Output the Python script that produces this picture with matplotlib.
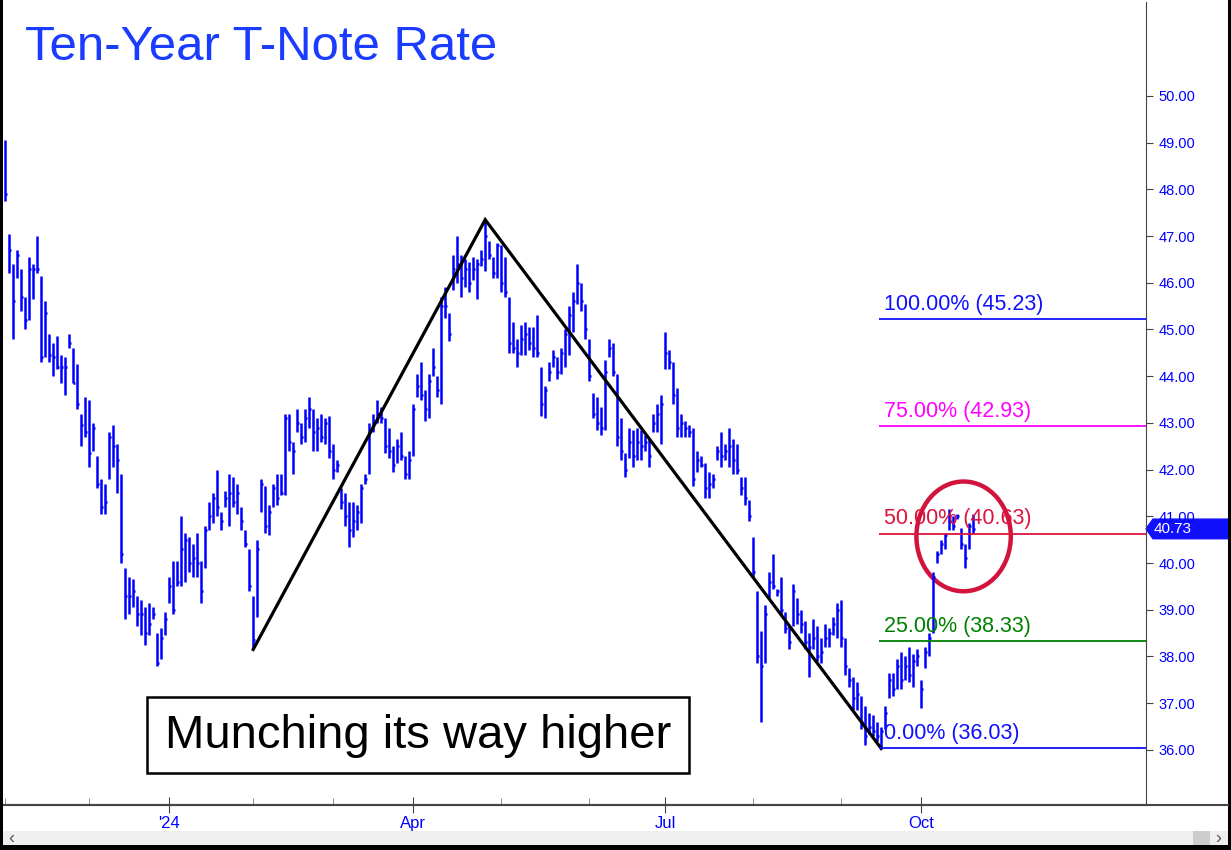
# Ten-Year T-Note Rate - daily HLC bars with pivot levels
import numpy as np
import pandas as pd
import matplotlib
matplotlib.use('Agg')
import matplotlib.pyplot as plt
from matplotlib.patches import Ellipse, Rectangle, Polygon
from matplotlib.transforms import blended_transform_factory

plt.rcParams['font.family'] = ['Liberation Sans', 'DejaVu Sans']

# Daily bars (rate x 10), starting 1 Nov 2023
highs = [
    49.06, 47.05, 46.4, 46.7, 46.3, 45.7, 46.55, 46.4, 47.0, 46.15,
    45.6, 44.9, 44.7, 44.85, 44.45, 44.4, 44.9, 44.6, 44.25, 43.2,
    43.55, 43.5, 43.0, 42.3, 41.8, 41.7, 42.8, 42.95, 42.55, 41.9,
    39.9, 39.7, 39.65, 39.3, 39.2, 39.05, 39.15, 39.05, 38.5, 38.6,
    38.95, 39.7, 40.05, 40.05, 41.0, 40.65, 40.55, 40.4, 40.65, 40.05,
    40.8, 41.3, 41.5, 42.0, 41.1, 41.55, 41.9, 41.85, 41.7, 41.2,
    40.7, 40.3, 39.3, 40.5, 41.8, 41.65, 41.25, 41.7, 41.9, 41.9,
    43.2, 43.2, 42.6, 43.3, 43.0, 43.3, 43.55, 43.3, 43.1, 43.2,
    43.1, 43.15, 42.55, 42.2, 41.6, 41.5, 41.3, 41.3, 41.25, 41.7,
    41.9, 43.0, 43.2, 43.5, 43.35, 43.1, 42.9, 42.5, 42.65, 42.8,
    42.3, 42.4, 43.4, 44.05, 44.3, 43.7, 44.05, 44.6, 44.0, 45.7,
    45.9, 45.35, 46.6, 47.0, 46.6, 46.5, 46.45, 46.55, 46.5, 46.7,
    47.35, 46.9, 46.55, 46.85, 46.8, 46.55, 45.7, 45.15, 44.8, 45.1,
    45.15, 45.05, 45.05, 45.3, 44.2, 43.8, 44.3, 44.55, 44.4, 44.6,
    45.0, 45.5, 45.8, 46.4, 46.0, 45.55, 44.8, 43.65, 43.55, 43.35,
    44.35, 44.8, 44.7, 44.05, 43.1, 42.35, 42.9, 42.85, 42.9, 42.85,
    42.75, 42.65, 43.2, 43.4, 43.6, 44.95, 44.55, 44.3, 43.75, 43.2,
    43.05, 42.95, 42.9, 42.4, 42.3, 42.15, 41.95, 41.9, 42.5, 42.8,
    42.55, 42.9, 42.65, 42.55, 41.85, 41.85, 41.35, 40.55, 39.4, 38.55,
    39.1, 39.8, 40.2, 39.45, 39.7, 38.95, 38.65, 39.55, 39.25, 39.0,
    38.75, 38.5, 38.8, 38.65, 38.4, 38.7, 38.6, 38.85, 39.15, 39.2,
    38.4, 37.75, 37.55, 37.45, 37.15, 36.95, 36.8, 36.75, 36.6, 36.5,
    36.95, 37.65, 37.65, 37.95, 38.1, 38.0, 38.2, 38.05, 38.15, 37.5,
    38.2, 38.5, 39.8, 40.25, 40.5, 40.65, 41.15, 41.0, 41.05, 40.75,
    40.4, 40.85, 41.05]

lows = [
    47.75, 46.2, 44.8, 46.1, 45.4, 45.0, 45.2, 45.65, 46.2, 44.3,
    44.4, 44.3, 44.0, 44.15, 43.85, 43.6, 44.6, 43.85, 43.3, 42.5,
    42.7, 42.05, 42.4, 41.6, 41.05, 41.05, 41.8, 42.05, 41.5, 40.0,
    38.8, 38.9, 39.05, 38.65, 38.45, 38.25, 38.45, 38.8, 37.8, 37.95,
    38.45, 39.15, 38.9, 39.5, 39.5, 39.6, 39.8, 39.7, 39.7, 39.15,
    39.9, 40.7, 40.85, 41.0, 40.7, 41.2, 40.8, 41.2, 41.05, 40.7,
    40.35, 39.4, 38.15, 38.85, 41.1, 40.65, 40.6, 41.2, 41.25, 41.45,
    41.45, 42.4, 41.9, 42.8, 42.55, 42.6, 42.9, 42.4, 42.4, 42.6,
    42.55, 42.25, 41.8, 41.95, 41.15, 40.8, 40.35, 40.55, 40.7, 40.85,
    41.7, 41.9, 42.8, 43.0, 43.0, 42.35, 42.25, 41.95, 42.15, 42.2,
    41.8, 41.8, 42.3, 43.55, 43.5, 43.05, 43.1, 44.0, 43.55, 43.4,
    45.25, 44.75, 45.85, 46.0, 45.7, 45.9, 45.8, 46.05, 45.65, 46.35,
    46.25, 46.5, 46.1, 46.1, 45.8, 45.7, 44.5, 44.5, 44.2, 44.45,
    44.45, 44.55, 44.4, 44.4, 43.15, 43.1, 43.9, 44.2, 43.95, 44.05,
    44.2, 44.45, 44.95, 45.55, 45.4, 44.8, 43.9, 43.1, 42.85, 42.75,
    42.85, 44.4, 44.0, 42.5, 42.2, 41.85, 42.25, 42.05, 42.2, 42.2,
    42.4, 42.05, 42.8, 42.8, 42.55, 44.15, 44.15, 43.4, 42.7, 42.7,
    42.7, 42.7, 41.65, 41.95, 42.05, 41.4, 41.4, 41.6, 42.2, 42.05,
    42.2, 42.05, 41.9, 41.9, 41.45, 41.25, 40.9, 39.7, 37.85, 36.6,
    37.85, 39.25, 39.45, 39.3, 38.9, 38.5, 38.15, 38.65, 38.7, 38.5,
    38.15, 37.55, 38.15, 37.9, 37.85, 38.2, 38.2, 38.45, 38.4, 38.2,
    37.6, 37.35, 36.85, 36.85, 36.45, 36.1, 36.35, 36.3, 36.2, 36.03,
    36.45, 37.1, 37.15, 37.3, 37.3, 37.5, 37.45, 37.35, 37.8, 36.9,
    37.75, 38.0, 38.5, 40.0, 40.2, 40.3, 40.7, 40.7, 40.95, 40.3,
    39.9, 40.3, 40.65]

closes = [
    47.9, 46.7, 45.6, 46.6, 45.7, 45.2, 46.3, 46.3, 46.3, 44.4,
    45.35, 44.45, 44.4, 44.2, 44.2, 44.2, 44.7, 43.85, 43.4, 42.95,
    42.8, 42.35, 42.9, 41.7, 41.2, 41.3, 42.7, 42.5, 42.2, 40.2,
    39.3, 39.3, 39.4, 38.9, 38.9, 38.5, 38.7, 38.9, 37.85, 38.4,
    38.8, 39.5, 39.0, 39.6, 40.3, 40.5, 40.0, 40.1, 40.0, 39.4,
    40.7, 41.0, 41.4, 41.2, 40.9, 41.4, 41.5, 41.3, 41.5, 40.9,
    40.4, 39.5, 38.35, 40.3, 41.7, 40.8, 41.1, 41.6, 41.4, 41.5,
    43.1, 42.6, 42.4, 43.0, 42.7, 43.1, 43.3, 42.8, 42.9, 42.7,
    43.0, 42.4, 42.0, 42.1, 41.3, 41.0, 40.7, 40.9, 41.1, 41.6,
    41.8, 42.8, 43.0, 43.2, 43.1, 42.5, 42.4, 42.1, 42.5, 42.3,
    41.9, 42.2, 43.3, 43.8, 43.6, 43.3, 43.9, 44.2, 43.7, 45.5,
    45.5, 44.9, 46.3, 46.4, 46.1, 46.3, 46.0, 46.3, 46.4, 46.5,
    47.0, 46.6, 46.2, 46.8, 46.0, 45.8, 44.7, 44.6, 44.5, 44.8,
    44.9, 44.7, 44.6, 44.5, 43.4, 43.7, 44.1, 44.4, 44.1, 44.5,
    44.9, 45.3, 45.6, 46.0, 45.6, 45.0, 44.0, 43.2, 43.0, 42.9,
    44.1, 44.6, 44.1, 42.7, 42.4, 42.0, 42.6, 42.3, 42.6, 42.5,
    42.6, 42.3, 43.0, 43.2, 43.4, 44.5, 44.3, 43.6, 42.9, 43.0,
    42.9, 42.8, 41.8, 42.2, 42.1, 41.6, 41.7, 41.8, 42.4, 42.3,
    42.4, 42.5, 42.2, 42.0, 41.6, 41.4, 41.0, 39.8, 38.0, 37.8,
    38.9, 39.6, 39.5, 39.4, 39.0, 38.6, 38.3, 39.4, 38.9, 38.7,
    38.3, 38.2, 38.4, 38.0, 38.1, 38.4, 38.5, 38.7, 39.0, 38.4,
    37.8, 37.5, 37.1, 37.2, 36.6, 36.3, 36.5, 36.4, 36.3, 36.4,
    36.8, 37.5, 37.3, 37.8, 37.5, 37.8, 37.6, 37.9, 38.0, 37.3,
    38.1, 38.4, 39.7, 40.2, 40.4, 40.6, 40.9, 40.8, 41.0, 40.4,
    40.1, 40.8, 40.73]

assert len(highs) == len(lows) == len(closes)

# market holidays (no bars)
holidays = ['2023-11-23', '2023-12-25', '2024-01-01', '2024-01-15', '2024-02-19',
            '2024-03-29', '2024-05-27', '2024-06-19', '2024-07-04', '2024-09-02']
month_labels = {1: "'24", 4: 'Apr', 7: 'Jul', 10: 'Oct'}

# ABC swing (bar index, value) and pivot levels
swing_idx = [62, 120, 219]
swing_val = [38.15, 47.35, 36.03]
fib_pct = ['100.00%', '75.00%', '50.00%', '25.00%', '0.00%']
fib_levels = [45.23, 42.93, 40.63, 38.33, 36.03]
fib_colors = ['#1010ff', '#ff00ff', '#dc143c', '#008000', '#1010ff']
last_value = 40.73

n = len(highs)
x = np.arange(n)
dates = pd.bdate_range('2023-11-01', periods=n, freq='C', holidays=holidays)

W, H = 1231, 850
fig = plt.figure(figsize=(W / 100, H / 100), dpi=100)
ax = fig.add_axes([4 / W, 45 / H, 1142 / W, 803 / H])
ax.set_xlim(-0.3, 285.2)
ax.set_ylim(34.82, 52.01)

blue = '#0000ff'
ax.vlines(x, lows, highs, color=blue, lw=1.8)
ax.hlines(closes, x, x + 0.5, color=blue, lw=1.8)

# swing lines
ax.plot(swing_idx, swing_val, color='black', lw=2.3, solid_joinstyle='miter')

# pivot levels
for pct, lev, col in zip(fib_pct, fib_levels, fib_colors):
    ax.hlines(lev, swing_idx[-1] - 0.5, 285.2, color=col, lw=1.3)
    ax.annotate(f'{pct} ({lev:.2f})', (swing_idx[-1] + 0.7, lev), xytext=(0, 3),
                textcoords='offset points', color=col, fontsize=15.5, va='bottom')

# circle round the latest bars
ax.add_patch(Ellipse((239.6, 40.57), 23.6, 2.35, fill=False, ec='#d2143c', lw=3.2))

# axes styling
for s in ['left', 'top']:
    ax.spines[s].set_visible(False)
ax.spines['right'].set_color('#444444')
ax.spines['bottom'].set_color('#444444')
ax.spines['bottom'].set_linewidth(1.5)
ax.yaxis.tick_right()
ax.set_yticks(np.arange(36, 51, 1.0))
ax.set_yticklabels([f'{v:.2f}' for v in np.arange(36, 51, 1.0)])
ax.tick_params(axis='y', colors='#444444', labelcolor=blue, labelsize=10.5,
               length=5, pad=4)

starts = [0] + [i for i in range(1, n) if dates[i].month != dates[i - 1].month]
major = [i for i in starts if dates[i].month in month_labels]
minor = [i for i in starts if dates[i].month not in month_labels]
ax.set_xticks(major)
ax.set_xticklabels([month_labels[dates[i].month] for i in major],
                   family=['Liberation Sans Narrow', 'Liberation Sans'])
ax.set_xticks(minor, minor=True)
ax.tick_params(axis='x', which='major', direction='inout', length=12,
               colors='#444444', labelcolor=blue, labelsize=12, pad=2)
ax.tick_params(axis='x', which='minor', direction='in', length=5, colors='#777777')

# last value tag
tr = blended_transform_factory(ax.transAxes, ax.transData)
px = 1 / 1142
tag = Polygon([(1.0, last_value), (1 + 7 * px, last_value + 0.21),
               (1 + 82 * px, last_value + 0.21), (1 + 82 * px, last_value - 0.21),
               (1 + 7 * px, last_value - 0.21)],
              closed=True, transform=tr, color='#1010ff', clip_on=False)
ax.add_patch(tag)
ax.text(1 + 8 * px, last_value, f'{last_value:.2f}', transform=tr, color='white',
        fontsize=11, va='center', ha='left')

# title
fig.text(25 / W, 1 - 48 / H, 'Ten-Year T-Note Rate', color='#1a3cff', fontsize=35.4,
         va='center', ha='left')

# caption box
fig.patches.append(Rectangle((147 / W, 1 - 773 / H), 542 / W, 76 / H, transform=fig.transFigure,
                             fill=True, fc='white', ec='black', lw=1.8))
fig.text(418 / W, 1 - 736 / H, 'Munching its way higher', fontsize=34,
         ha='center', va='center', color='black')

# bottom strip, axis line and frame
fig.add_artist(plt.Line2D([4 / W, 1228 / W], [45 / H, 45 / H], color='#444444', lw=1.5,
                          transform=fig.transFigure))
fig.patches.append(Rectangle((3 / W, 5 / H), 1225 / W, 14 / H, transform=fig.transFigure,
                             fc='#efefef', ec='none'))
fig.patches.append(Rectangle((1193 / W, 5 / H), 17 / W, 14 / H, transform=fig.transFigure,
                             fc='#cdcdcd', ec='none'))
fig.text(11 / W, 12 / H, '‹', color='#555555', fontsize=13, ha='center', va='center')
fig.text(1218 / W, 12 / H, '›', color='#555555', fontsize=13, ha='center', va='center')
for rect in [(0, 0, 3, H), (0, 0, W, 5), (W - 3, 0, 3, H)]:
    fig.patches.append(Rectangle((rect[0] / W, rect[1] / H), rect[2] / W, rect[3] / H,
                                 transform=fig.transFigure, fc='black', ec='none'))

fig.savefig('out.png', dpi=100)
